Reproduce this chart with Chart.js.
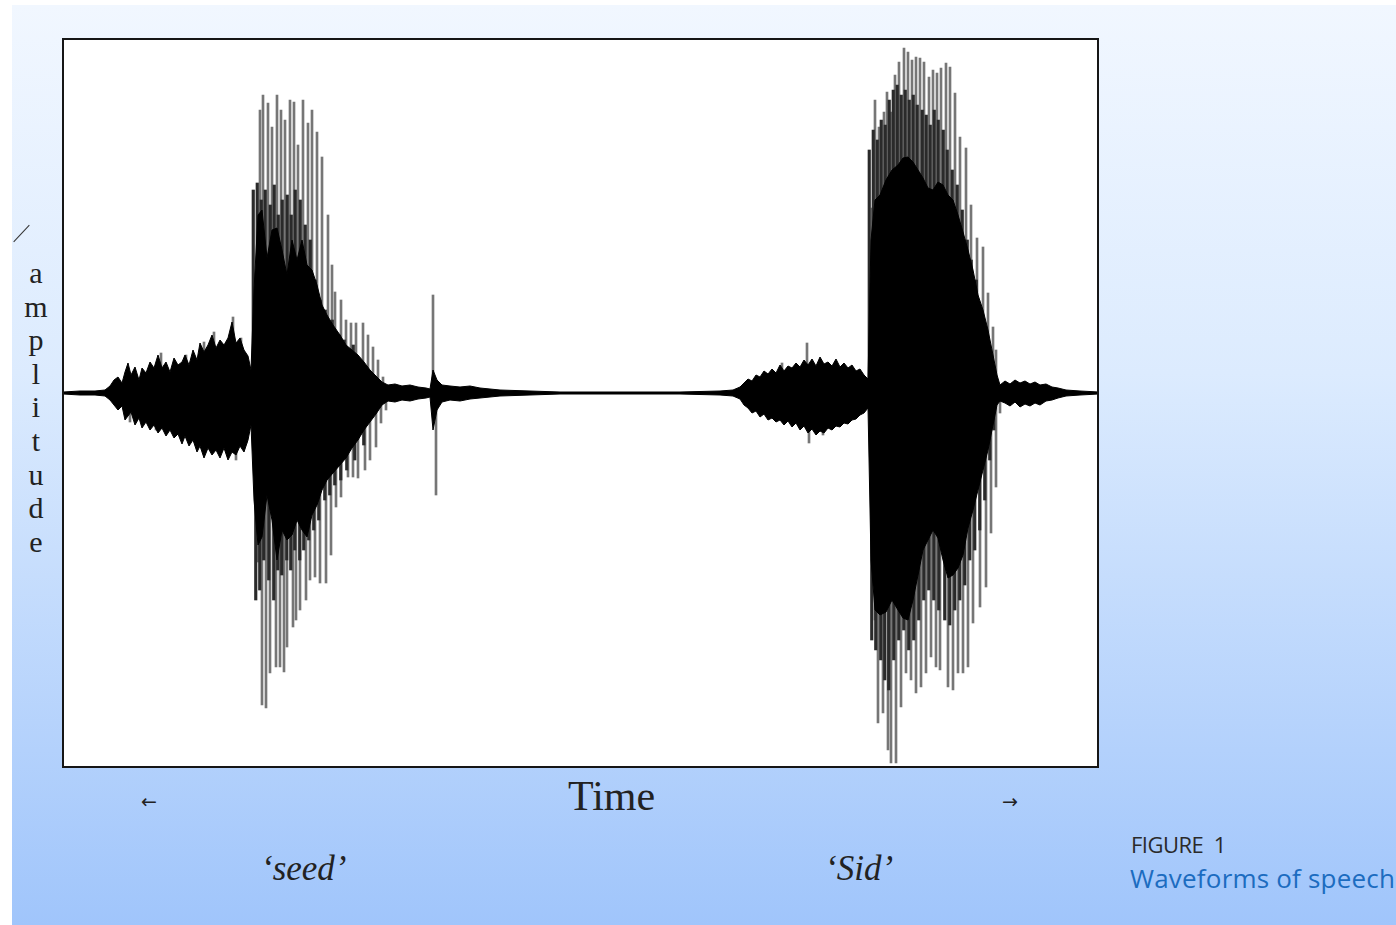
<!DOCTYPE html>
<html>
<head>
<meta charset="utf-8">
<script src="https://cdn.jsdelivr.net/npm/chart.js@4.4.1/dist/chart.umd.min.js"></script>
<style>
    html, body { margin: 0; padding: 0; width: 1396px; height: 925px; background: #fff; overflow: hidden; }
    .panel {
        position: absolute; left: 12px; top: 5px; width: 1384px; height: 920px;
        background: linear-gradient(to bottom, #f1f7ff 0%, #dcebfe 40%, #a0c5fb 100%);
    }
    .plot-box {
        position: absolute; left: 62px; top: 38px; width: 1033px; height: 726px;
        border: 2px solid #161616; background: #fff;
    }
    .plot-box canvas { position: absolute; left: 0; top: 0; }
    .txt { position: absolute; color: #222; font-family: "Liberation Serif", "DejaVu Serif", serif; white-space: nowrap; }
    .amp { left: 23px; top: 256px; width: 26px; text-align: center; font-size: 30px; line-height: 33.6px; }
    .slash { position: absolute; left: 10px; top: 233px; width: 23px; height: 1px; background: #333; transform: rotate(-47deg); }
    .time { left: 568px; top: 772px; font-size: 42px; }
    .arrow { font-family: "DejaVu Sans", sans-serif; font-size: 19px; top: 790px; }
    .word { font-style: italic; font-size: 35px; top: 849px; }
    .fig { left: 1131px; top: 829px; font-family: "Open Sans", sans-serif; font-size: 22px; color: #2a2a2a; letter-spacing: -0.5px; }
    .cap { left: 1130px; top: 860px; font-family: "Open Sans", sans-serif; font-size: 26px; color: #1c6cc0; letter-spacing: 0.2px; }
</style>
</head>
<body>
<div class="panel"></div>
<div class="plot-box"><canvas id="waveChart" width="1033" height="726"></canvas></div>
<div class="slash"></div>
<div class="txt amp">a<br>m<br>p<br>l<br>i<br>t<br>u<br>d<br>e</div>
<div class="txt time">Time</div>
<div class="txt arrow" style="left:141px">&larr;</div>
<div class="txt arrow" style="left:1002px">&rarr;</div>
<div class="txt word" style="left:261px">&lsquo;seed&rsquo;</div>
<div class="txt word" style="left:825px">&lsquo;Sid&rsquo;</div>
<div class="txt fig">FIGURE&nbsp; 1</div>
<div class="txt cap">Waveforms of speech</div>

<script>
// time in ms (arbitrary), amplitude in arbitrary units

// dense (black) envelope of the waveform
const coreTime = [0, 17, 32, 42,
    // 's' of seed
    47, 51, 55, 59, 62, 65, 68, 72, 76, 79, 83, 87, 91, 95, 99, 103, 107, 111, 115, 119,
    122, 126, 130, 134, 137, 141, 145, 149, 153, 157, 161, 165, 169, 173, 177, 181, 185, 188,
    // 'ee'
    191, 195, 199, 204, 209, 214, 219, 224, 229, 234, 239, 244, 249, 254, 259, 264, 270, 277, 283, 289, 295, 301, 307, 313, 319,
    // 'd', burst, pause
    325, 332, 339, 347, 355, 363, 367, 370, 374, 379, 387, 397, 407, 417, 427, 437, 497, 557, 617, 657, 670,
    // 'S' of Sid
    677, 681, 685, 689, 693, 697, 701, 705, 709, 713, 717, 721, 725, 729, 733, 737, 741, 745, 749, 753,
    757, 761, 765, 769, 773, 777, 781, 785, 789, 793, 797, 801, 805,
    // 'i'
    808, 812, 817, 823, 829, 835, 840, 845, 850, 855, 860, 865, 870, 875, 880, 885, 890, 895, 900, 905, 910, 915, 920, 925, 930, 934,
    // 'd' and end
    937, 942, 947, 952, 957, 962, 967, 972, 977, 983, 989, 995, 1003, 1017, 1036];
const coreUpper = [1, 2, 2, 3,
    7, 13, 16, 10, 21, 30, 18, 26, 13, 25, 20, 31, 25, 38, 25, 31, 21, 35, 28, 31,
    38, 28, 43, 33, 50, 41, 48, 58, 45, 53, 48, 55, 71, 50, 55, 43, 37, 23,
    103, 178, 183, 135, 163, 165, 143, 118, 153, 133, 153, 128, 123, 108, 88, 78, 68, 58, 48, 43, 38, 31, 23, 17, 11,
    8, 9, 7, 8, 6, 5, 4, 23, 13, 8, 7, 6, 7, 5, 4, 3, 1, 1, 1, 2, 3,
    6, 10, 14, 12, 18, 16, 22, 19, 24, 20, 28, 22, 27, 25, 30, 26, 33, 28, 34, 27,
    36, 29, 31, 27, 34, 26, 30, 25, 28, 22, 24, 18, 14,
    153, 193, 198, 213, 223, 228, 235, 236, 231, 223, 215, 205, 203, 211, 208, 198, 193, 178, 161, 143, 123, 98, 83, 63, 38, 18,
    8, 12, 9, 13, 10, 12, 9, 11, 8, 9, 6, 5, 3, 2, 1];
const coreLower = [-1, -2, -2, -3,
    -7, -12, -17, -13, -27, -23, -19, -32, -25, -35, -29, -37, -32, -40, -35, -43, -37, -45, -41, -51,
    -43, -53, -47, -59, -53, -65, -55, -62, -57, -65, -55, -67, -59, -62, -53, -59, -47, -32,
    -107, -152, -144, -102, -127, -167, -137, -147, -142, -127, -137, -144, -122, -112, -97, -87, -80, -72, -65, -55, -47, -37, -29, -21, -12,
    -8, -9, -7, -8, -6, -5, -4, -37, -17, -9, -7, -8, -6, -5, -4, -3, -1, -1, -1, -2, -3,
    -6, -12, -15, -20, -18, -24, -21, -27, -25, -29, -27, -32, -28, -34, -30, -37, -33, -40, -36, -42,
    -38, -40, -35, -37, -33, -34, -30, -31, -27, -26, -22, -20, -15,
    -167, -217, -222, -219, -207, -217, -225, -227, -207, -182, -157, -147, -137, -145, -167, -185, -182, -175, -162, -135, -117, -97, -77, -57, -32, -12,
    -8, -10, -13, -9, -14, -11, -13, -10, -12, -8, -7, -5, -3, -2, -1];

// dark, closely packed pulses just outside the dense part (vowels)
const midUpTime = [194, 198, 202, 206, 211, 215, 219, 223, 228, 232, 236, 241, 246, 251, 256, 261, 266, 273, 280, 285, 294,
    810, 814, 818, 822, 826, 830, 834, 838, 842, 846, 850, 854, 858, 863, 867, 871, 875, 879, 884, 888, 893, 898, 903, 908, 912, 917, 922, 927];
const midUpAmp = [203, 210, 193, 203, 188, 208, 178, 193, 198, 178, 203, 193, 168, 153, 113, 93, 83, 73, 58, 53, 48,
    243, 263, 253, 273, 268, 293, 303, 308, 298, 303, 293, 298, 288, 283, 278, 268, 283, 273, 263, 243, 223, 208, 183, 153, 133, 113, 83, 53];
const midDownTime = [194, 198, 202, 207, 212, 216, 220, 225, 229, 233, 238, 242, 247, 252, 257, 263, 268, 273, 279, 285, 293, 302,
    810, 814, 819, 823, 827, 832, 837, 842, 847, 852, 857, 862, 867, 872, 877, 883, 888, 893, 898, 903, 908, 913, 918, 923, 928, 932];
const midDownAmp = [-207, -197, -167, -187, -207, -177, -182, -167, -177, -157, -167, -157, -147, -137, -127, -107, -102, -92, -87, -77, -67, -52,
    -247, -257, -267, -287, -297, -267, -247, -237, -257, -247, -227, -207, -197, -207, -217, -227, -232, -217, -207, -192, -167, -157, -137, -107, -67, -37];

// single glottal pulses / peaks that stick out furthest
const upSpikeTime = [97, 122, 140, 150, 169, 177,
    192, 196, 199, 204, 208, 213, 217, 221, 226, 230, 234, 239, 244, 248, 253, 258, 264, 268, 271, 277, 282, 287, 292, 299, 304, 309, 314, 319,
    369, 718, 743,
    808, 811, 815, 820, 823, 827, 831, 835, 840, 844, 848, 852, 856, 860, 865, 869, 873, 877, 882, 886, 891, 896, 902, 907, 913, 919, 924, 929, 932];
const upSpikeAmp = [40, 38, 51, 61, 76, 55,
    120, 283, 298, 290, 266, 298, 283, 273, 293, 291, 248, 293, 270, 283, 261, 236, 178, 128, 101, 93, 73, 70, 70, 70, 58, 46, 33, 16,
    98, 30, 50,
    185, 293, 266, 281, 301, 281, 318, 331, 345, 341, 333, 336, 335, 331, 316, 323, 320, 325, 330, 326, 300, 256, 245, 188, 155, 146, 100, 66, 43];
const downSpikeTime = [64, 90, 124, 139, 154, 170, 180,
    192, 196, 200, 204, 210, 214, 218, 221, 227, 230, 234, 240, 244, 249, 254, 260, 265, 270, 275, 282, 287, 292, 299, 304, 310, 315, 320,
    370, 743, 757,
    809, 812, 817, 822, 825, 830, 835, 840, 845, 850, 855, 860, 865, 870, 874, 882, 887, 892, 897, 902, 907, 914, 920, 925, 930, 934];
const downSpikeAmp = [-29, -37, -45, -57, -60, -67, -50,
    -169, -312, -315, -280, -274, -274, -279, -254, -234, -227, -217, -207, -187, -184, -190, -190, -162, -114, -104, -84, -84, -85, -77, -67, -54, -30, -17,
    -102, -50, -42,
    -227, -330, -320, -357, -370, -370, -314, -280, -287, -300, -294, -280, -264, -274, -277, -294, -297, -280, -280, -274, -230, -214, -194, -140, -94, -20];

// axis limits (zero line sits above the middle of the box)
const timeMin = 1, timeMax = 1034;
const ampMin = -373, ampMax = 353;

document.addEventListener('DOMContentLoaded', () => {
    const ctx = document.getElementById('waveChart').getContext('2d');

    const toPoints = (xs, ys) => xs.map((x, i) => ({ x: x, y: ys[i] }));
    const toBars = (xs, ys) => xs.map((x, i) => ({ x: x, y: [0, ys[i]] }));

    // first dataset is drawn on top
    new Chart(ctx, {
        type: 'bar',
        data: {
            datasets: [
                {
                    type: 'line',
                    label: 'envelope top',
                    data: toPoints(coreTime, coreUpper),
                    borderColor: '#000',
                    backgroundColor: '#000',
                    borderWidth: 1,
                    pointRadius: 0,
                    tension: 0,
                    fill: '+1'
                },
                {
                    type: 'line',
                    label: 'envelope bottom',
                    data: toPoints(coreTime, coreLower),
                    borderColor: '#000',
                    borderWidth: 1,
                    pointRadius: 0,
                    tension: 0,
                    fill: false
                },
                {
                    label: 'pulses up',
                    data: toBars(midUpTime, midUpAmp),
                    backgroundColor: '#2a2a2a',
                    borderWidth: 0,
                    barThickness: 2.5
                },
                {
                    label: 'pulses down',
                    data: toBars(midDownTime, midDownAmp),
                    backgroundColor: '#2a2a2a',
                    borderWidth: 0,
                    barThickness: 2.5
                },
                {
                    label: 'peaks up',
                    data: toBars(upSpikeTime, upSpikeAmp),
                    backgroundColor: '#767676',
                    borderWidth: 0,
                    barThickness: 2
                },
                {
                    label: 'peaks down',
                    data: toBars(downSpikeTime, downSpikeAmp),
                    backgroundColor: '#767676',
                    borderWidth: 0,
                    barThickness: 2
                }
            ]
        },
        options: {
            responsive: false,
            animation: false,
            layout: { padding: 0 },
            plugins: {
                legend: { display: false },
                tooltip: { enabled: false }
            },
            scales: {
                x: { type: 'linear', min: timeMin, max: timeMax, offset: false, display: false },
                y: { min: ampMin, max: ampMax, display: false }
            }
        }
    });
});
</script>
</body>
</html>
